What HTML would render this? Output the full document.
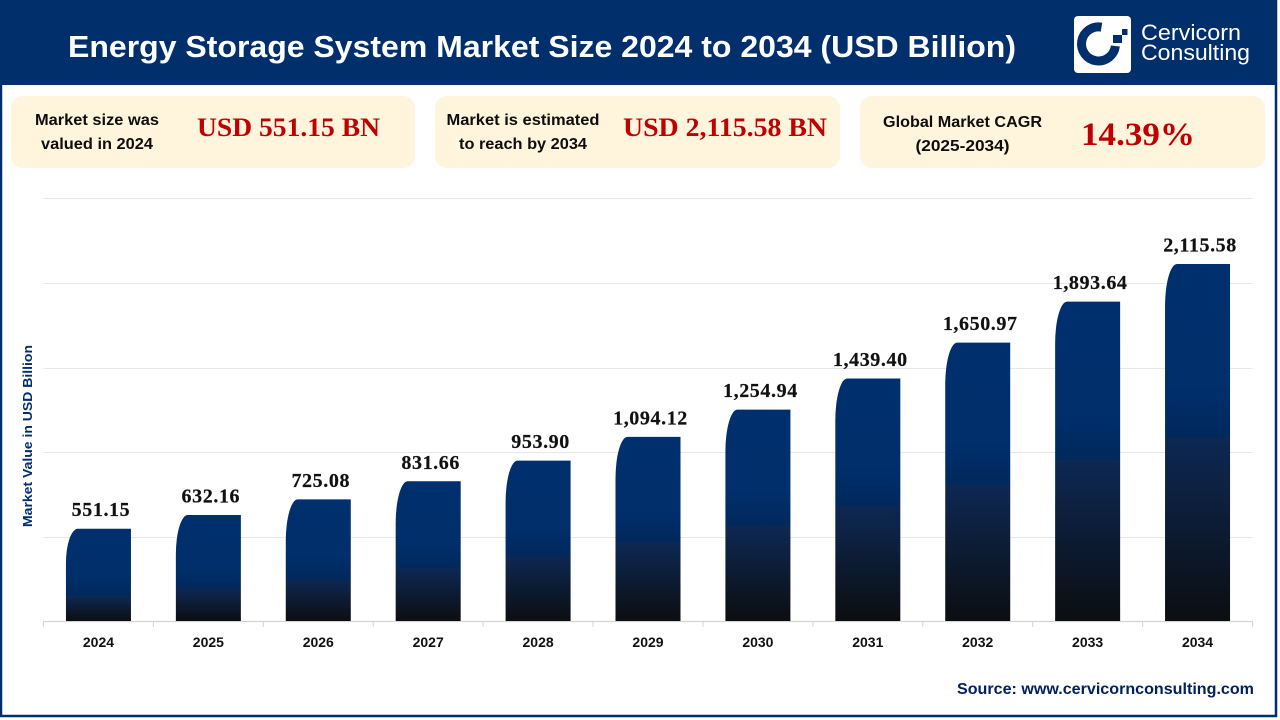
<!DOCTYPE html>
<html lang="en">
<head>
<meta charset="utf-8">
<title>Energy Storage System Market Size 2024 to 2034</title>
<style>
html,body{margin:0;padding:0;background:#fff;width:1280px;height:720px;overflow:hidden}
svg{display:block}
text{font-family:"Liberation Sans",sans-serif}
.serif{font-family:"Liberation Serif",serif;font-weight:bold}
.card-label{font-size:15.5px;font-weight:bold;fill:#0d0d0d;text-anchor:middle}
.card-value{fill:#c00000;text-anchor:middle}
</style>
</head>
<body>
<svg id="chart" xmlns="http://www.w3.org/2000/svg" width="1280" height="720" viewBox="0 0 1280 720">
  <defs id="bar-gradients"></defs>
  <rect x="0" y="0" width="1280" height="720" fill="#fff"/>
  <rect x="1" y="1" width="1275" height="715" fill="none" stroke="#002f6c" stroke-width="2.5"/>
  <rect x="0" y="1" width="1277" height="84" fill="#002f6c"/>
  <text x="68" y="57" font-size="31" font-weight="bold" fill="#fff" textLength="948" lengthAdjust="spacingAndGlyphs">Energy Storage System Market Size 2024 to 2034 (USD Billion)</text>

  <g>
    <rect x="1074" y="16" width="57" height="57" rx="4" fill="#fff"/>
    <path d="M1101.5 27.2 A17 17 0 1 0 1115.4 46" fill="none" stroke="#002f6c" stroke-width="9"/>
    <rect x="1113" y="35" width="9" height="8" fill="#002f6c"/>
    <rect x="1122" y="29" width="5.5" height="6" fill="#002f6c"/>
    <text x="1141" y="40" font-size="22" fill="#fff" textLength="100" lengthAdjust="spacingAndGlyphs">Cervicorn</text>
    <text x="1141" y="60" font-size="22" fill="#fff" textLength="109" lengthAdjust="spacingAndGlyphs">Consulting</text>
  </g>

  <g>
    <rect x="11" y="96" width="404" height="72" rx="12" fill="#fff4dc"/>
    <text class="card-label" x="97" y="125" textLength="124" lengthAdjust="spacingAndGlyphs">Market size was</text>
    <text class="card-label" x="97" y="149" textLength="112" lengthAdjust="spacingAndGlyphs">valued in 2024</text>
    <text class="card-value serif" x="288.5" y="136" font-size="26" textLength="183" lengthAdjust="spacingAndGlyphs">USD 551.15 BN</text>
  </g>
  <g>
    <rect x="435" y="96" width="405" height="72" rx="12" fill="#fff4dc"/>
    <text class="card-label" x="523" y="125" textLength="153" lengthAdjust="spacingAndGlyphs">Market is estimated</text>
    <text class="card-label" x="523" y="149" textLength="128" lengthAdjust="spacingAndGlyphs">to reach by 2034</text>
    <text class="card-value serif" x="725" y="136" font-size="26" textLength="204" lengthAdjust="spacingAndGlyphs">USD 2,115.58 BN</text>
  </g>
  <g>
    <rect x="860" y="96" width="405" height="72" rx="12" fill="#fff4dc"/>
    <text class="card-label" x="962.5" y="127" textLength="159" lengthAdjust="spacingAndGlyphs">Global Market CAGR</text>
    <text class="card-label" x="962.5" y="151" textLength="94" lengthAdjust="spacingAndGlyphs">(2025-2034)</text>
    <text class="card-value serif" x="1138" y="145" font-size="33" textLength="114" lengthAdjust="spacingAndGlyphs">14.39%</text>
  </g>

  <g id="grid-layer"></g>
  <g id="axis-layer"></g>
  <g id="bar-layer"></g>
  <g id="label-layer"></g>

  <text transform="translate(32 436) rotate(-90)" text-anchor="middle" font-size="12.5" font-weight="bold" fill="#002f6c" textLength="182" lengthAdjust="spacingAndGlyphs">Market Value in USD Billion</text>
  <text x="957" y="694" font-size="15.5" font-weight="bold" fill="#002060" textLength="297" lengthAdjust="spacingAndGlyphs">Source: www.cervicornconsulting.com</text>
</svg>

<script>
const years = ['2024','2025','2026','2027','2028','2029','2030','2031','2032','2033','2034'];
const marketValues = [551.15,632.16,725.08,831.66,953.90,1094.12,1254.94,1439.40,1650.97,1893.64,2115.58];
const gridValues = [0,500,1000,1500,2000,2500];

const NS = 'http://www.w3.org/2000/svg';
const plotLeft = 43.5, plotRight = 1252.5, plotBottom = 621.3, plotTop = 198.3, axisMax = 2500;
const barBase = 621;
const slot = (plotRight - plotLeft) / years.length;
const barWidth = 65;
const labelShift = 2.5;

function yScale(v){ return plotBottom - (v / axisMax) * (plotBottom - plotTop); }
function xCenter(i){ return plotLeft + slot * i + slot / 2; }
function make(tag, attrs, parent){
  const el = document.createElementNS(NS, tag);
  for (const k in attrs) el.setAttribute(k, attrs[k]);
  parent.appendChild(el);
  return el;
}
function darkShare(v){
  const x = Math.log(Math.max(v, 1) / 551.15);
  return Math.min(0.6, Math.max(0.15, 0.27 + 0.287 * x - 0.0785 * x * x));
}

const defs = document.getElementById('bar-gradients');
const gridLayer = document.getElementById('grid-layer');
const axisLayer = document.getElementById('axis-layer');
const barLayer = document.getElementById('bar-layer');
const labelLayer = document.getElementById('label-layer');

gridValues.slice(1).forEach(function(v){
  const y = Math.round(yScale(v)) + 0.5;
  const line = make('line', {x1: plotLeft, x2: plotRight, y1: y, y2: y, stroke: '#e8e8e8', 'stroke-width': 1}, gridLayer);
  
  
});

const axisLine = make('line', {x1: plotLeft, x2: plotRight, y1: barBase + 0.5, y2: barBase + 0.5, stroke: '#d4d4d4', 'stroke-width': 1.2}, axisLayer);



for (let i = 0; i <= years.length; i++){
  const x = plotLeft + slot * i;
  const tick = make('line', {x1: x, x2: x, y1: barBase, y2: barBase + 6, stroke: '#d4d4d4', 'stroke-width': 1}, axisLayer);
  
  
}

years.forEach(function(year, i){
  const value = marketValues[i];
  const cx = xCenter(i);
  const left = cx - barWidth / 2;
  const right = cx + barWidth / 2;
  const top = yScale(value) + 0.7;
  const h = barBase - top;
  const f = 1 - darkShare(value);

  const grad = make('linearGradient', {id: 'bar-fill-' + i, x1: 0, y1: 0, x2: 0, y2: 1}, defs);
  make('stop', {offset: 0, 'stop-color': '#002f6d'}, grad);
  make('stop', {offset: f * 0.7, 'stop-color': '#002f6c'}, grad);
  make('stop', {offset: f, 'stop-color': '#00295c'}, grad);
  make('stop', {offset: f + 0.001, 'stop-color': '#0d2853'}, grad);
  make('stop', {offset: 1, 'stop-color': '#0c0e11'}, grad);

  const rx = 12;
  const ry = Math.min(42, h * 0.37);
  const d = 'M' + left + ' ' + barBase +
    ' L' + left + ' ' + (top + ry) +
    ' A' + rx + ' ' + ry + ' 0 0 1 ' + (left + rx) + ' ' + top +
    ' L' + right + ' ' + top +
    ' L' + right + ' ' + barBase + ' Z';
  const bar = make('path', {d: d, fill: 'url(#bar-fill-' + i + ')'}, barLayer);
  
  

  const label = make('text', {x: cx + labelShift, y: top - 12.5, 'text-anchor': 'middle', 'font-size': 20, 'letter-spacing': 0.6, fill: '#111', stroke: '#111', 'stroke-width': 0.2, 'class': 'serif'}, labelLayer);
  label.textContent = value.toLocaleString('en-US', {minimumFractionDigits: 2, maximumFractionDigits: 2});
  
  

  const cat = make('text', {x: cx, y: 647, 'text-anchor': 'middle', 'font-size': 14, 'font-weight': 'bold', fill: '#111'}, axisLayer);
  cat.textContent = year;
  
  
});
</script>
</body>
</html>
